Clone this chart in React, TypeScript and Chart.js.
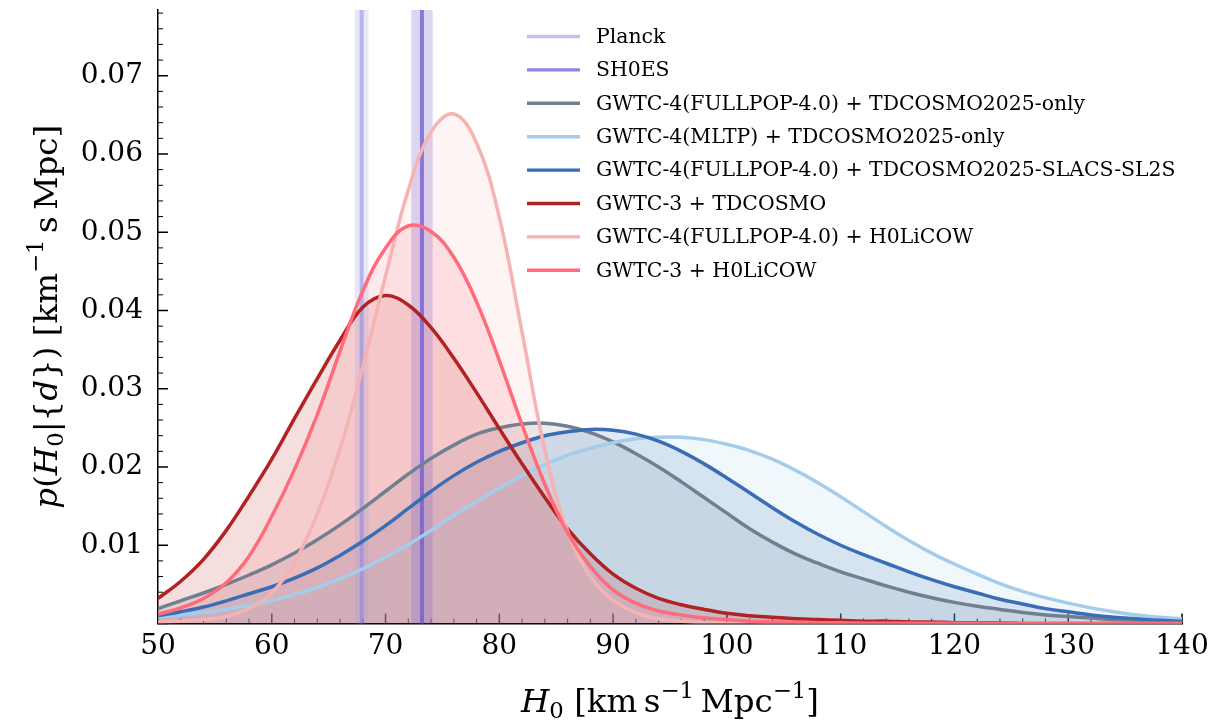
import React, { useEffect, useRef } from "react";
import { Chart, registerables } from "chart.js";

Chart.register(...registerables);

// ---------------- data ----------------
const H0_GRID = [
  50, 52, 54, 56, 58, 60, 62, 64, 66, 68, 70, 72, 74, 76, 78, 80, 82, 84, 86, 88,
  90, 92, 94, 96, 98, 100, 102, 104, 106, 108, 110, 112, 114, 116, 118, 120, 122,
  124, 126, 128, 130, 132, 134, 136, 138, 140,
];

const GWTC4_FULLPOP_TDCOSMO = [
  0.0019, 0.0029, 0.0039, 0.005, 0.0062, 0.0075, 0.009, 0.0107, 0.0126, 0.0147,
  0.0169, 0.0191, 0.0211, 0.0228, 0.0242, 0.025, 0.0255, 0.0256, 0.0252, 0.0244,
  0.0232, 0.0217, 0.02, 0.0181, 0.0161, 0.0141, 0.0121, 0.0104, 0.0089, 0.0077,
  0.0066, 0.0057, 0.0048, 0.004, 0.0033, 0.0027, 0.0022, 0.0018, 0.0014, 0.0011,
  0.0009, 0.0007, 0.0005, 0.0004, 0.0003, 0.0002,
];

const GWTC4_MLTP_TDCOSMO = [
  0.0008, 0.0011, 0.0014, 0.0018, 0.0023, 0.0029, 0.0037, 0.0046, 0.0057, 0.007,
  0.0085, 0.0101, 0.0119, 0.0138, 0.0156, 0.0173, 0.0189, 0.0203, 0.0215, 0.0224,
  0.0231, 0.0236, 0.0238, 0.0238, 0.0235, 0.0229, 0.0221, 0.021, 0.0196, 0.018,
  0.0162, 0.0143, 0.0124, 0.0106, 0.009, 0.0076, 0.0063, 0.0051, 0.0041, 0.0033,
  0.0026, 0.002, 0.0015, 0.0011, 0.0008, 0.0006,
];

const GWTC4_FULLPOP_SLACS = [
  0.001, 0.0015, 0.0021, 0.0029, 0.0038, 0.0047, 0.0058, 0.0071, 0.0087, 0.0105,
  0.0125, 0.0147, 0.0169, 0.0189, 0.0206, 0.022, 0.0231, 0.024, 0.0245, 0.0248,
  0.0247, 0.0242, 0.0233, 0.022, 0.0204, 0.0186, 0.0167, 0.0148, 0.013, 0.0114,
  0.01, 0.0088, 0.0077, 0.0066, 0.0056, 0.0047, 0.0039, 0.0031, 0.0025, 0.0019,
  0.0015, 0.0011, 0.0008, 0.0006, 0.0004, 0.0003,
];

const GWTC3_TDCOSMO = [
  0.0032, 0.0054, 0.0082, 0.0119, 0.0163, 0.021, 0.0262, 0.0313, 0.0362, 0.0404,
  0.0419, 0.0407, 0.0378, 0.0339, 0.0295, 0.0249, 0.0204, 0.0161, 0.0121, 0.0089,
  0.0063, 0.0045, 0.0032, 0.0024, 0.0018, 0.0013, 0.001, 0.0008, 0.0006, 0.0005,
  0.0004, 0.0003, 0.0003, 0.0002, 0.0002, 0.0001, 0.0001, 0.0001, 0, 0,
  0, 0, 0, 0, 0, 0,
];

const GWTC4_FULLPOP_H0LICOW = [
  0.0002, 0.0003, 0.0005, 0.0009, 0.0019, 0.0039, 0.0078, 0.014, 0.0223, 0.0328,
  0.0444, 0.0554, 0.0628, 0.0651, 0.0614, 0.0519, 0.0372, 0.0222, 0.0118, 0.006,
  0.003, 0.0014, 0.0006, 0.0003, 0.0001, 0, 0, 0, 0, 0,
  0, 0, 0, 0, 0, 0, 0, 0, 0, 0,
  0, 0, 0, 0, 0, 0,
];

const GWTC3_H0LICOW = [
  0.0012, 0.002, 0.0032, 0.0052, 0.0086, 0.0137, 0.0197, 0.0267, 0.0348, 0.0425,
  0.048, 0.0508, 0.0501, 0.0468, 0.0411, 0.0336, 0.0254, 0.0178, 0.0116, 0.0073,
  0.0043, 0.0026, 0.0016, 0.0011, 0.0007, 0.0005, 0.0003, 0.0002, 0.0002, 0.0001,
  0.0001, 0, 0, 0, 0, 0, 0, 0, 0, 0,
  0, 0, 0, 0, 0, 0,
];

const SERIES_NAMES = [
  "GWTC-4(FULLPOP-4.0) + TDCOSMO2025-only",
  "GWTC-4(MLTP) + TDCOSMO2025-only",
  "GWTC-4(FULLPOP-4.0) + TDCOSMO2025-SLACS-SL2S",
  "GWTC-3 + TDCOSMO",
  "GWTC-4(FULLPOP-4.0) + H0LiCOW",
  "GWTC-3 + H0LiCOW",
];
const SERIES_VALUES = [
  GWTC4_FULLPOP_TDCOSMO,
  GWTC4_MLTP_TDCOSMO,
  GWTC4_FULLPOP_SLACS,
  GWTC3_TDCOSMO,
  GWTC4_FULLPOP_H0LICOW,
  GWTC3_H0LICOW,
];
const SERIES_COLORS = ["#708090", "#a3cdeb", "#3a6db5", "#b22222", "#f5b3b3", "#ff6b7a"];

// Reference measurements (mean, 1-sigma)
const PLANCK = { name: "Planck", mean: 67.9, sigma: 0.6 };
const SHOES = { name: "SH0ES", mean: 73.2, sigma: 0.94 };

const X_TICKS = [50, 60, 70, 80, 90, 100, 110, 120, 130, 140];
const Y_TICKS = [0.01, 0.02, 0.03, 0.04, 0.05, 0.06, 0.07];
const X_RANGE = [50, 140];
const Y_RANGE = [0, 0.0784];
const X_MINOR = 2;
const Y_MINOR = 0.002;

// ---------------- helpers ----------------
const FONT = '"DejaVu Serif", "Liberation Serif", serif';

function hexA(hex: string, a: number) {
  const n = parseInt(hex.slice(1), 16);
  return `rgba(${(n >> 16) & 255},${(n >> 8) & 255},${n & 255},${a})`;
}

type Seg = { t: string; it?: boolean; sub?: boolean; sup?: boolean };

function drawRich(ctx: CanvasRenderingContext2D, segs: Seg[], cx: number, baseline: number, size: number) {
  const parts = segs.map((s) => {
    const sz = s.sub || s.sup ? size * 0.7 : size;
    const font = `${s.it ? "italic " : ""}${sz}px ${FONT}`;
    ctx.font = font;
    const w = ctx.measureText(s.t).width;
    const dy = s.sub ? size * 0.18 : s.sup ? -size * 0.42 : 0;
    return { font, w, dy, t: s.t };
  });
  const total = parts.reduce((a, p) => a + p.w, 0);
  let x = cx - total / 2;
  ctx.textAlign = "left";
  ctx.textBaseline = "alphabetic";
  for (const p of parts) {
    ctx.font = p.font;
    ctx.fillText(p.t, x, baseline + p.dy);
    x += p.w;
  }
}

const X_TITLE: Seg[] = [
  { t: "H", it: true },
  { t: "0", sub: true },
  { t: " [km\u2009s" },
  { t: "\u22121", sup: true },
  { t: "\u2009Mpc" },
  { t: "\u22121", sup: true },
  { t: "]" },
];

const Y_TITLE: Seg[] = [
  { t: "p", it: true },
  { t: "(" },
  { t: "H", it: true },
  { t: "0", sub: true },
  { t: "|{" },
  { t: "d", it: true },
  { t: "})" },
  { t: " [km" },
  { t: "\u22121", sup: true },
  { t: "\u2009s\u2009Mpc]" },
];

const PLANCK_STYLE = { band: "rgba(160,160,230,0.24)", line: "rgba(130,130,220,0.5)" };
const SHOES_STYLE = { band: "rgba(125,105,205,0.27)", line: "rgba(110,90,210,0.75)" };

// inward ticks, drawn first so the fills lie over them
const ticksPlugin = {
  id: "inTicks",
  beforeDraw(chart: any) {
    const { ctx, chartArea, scales } = chart;
    const x = scales.x;
    const y = scales.y;
    ctx.save();
    ctx.strokeStyle = "#000";
    const nx = Math.round((X_RANGE[1] - X_RANGE[0]) / X_MINOR);
    for (let k = 0; k <= nx; k++) {
      const v = X_RANGE[0] + k * X_MINOR;
      const major = X_TICKS.includes(v);
      const px = x.getPixelForValue(v);
      ctx.lineWidth = major ? 1.5 : 1;
      ctx.beginPath();
      ctx.moveTo(px, chartArea.bottom);
      ctx.lineTo(px, chartArea.bottom - (major ? 10 : 5));
      ctx.stroke();
    }
    const ny = Math.floor((Y_RANGE[1] - Y_RANGE[0]) / Y_MINOR + 1e-6);
    for (let k = 0; k <= ny; k++) {
      const v = Y_RANGE[0] + k * Y_MINOR;
      const major = k % 5 === 0;
      const py = y.getPixelForValue(v);
      ctx.lineWidth = major ? 1.5 : 1;
      ctx.beginPath();
      ctx.moveTo(chartArea.left, py);
      ctx.lineTo(chartArea.left + (major ? 10 : 5), py);
      ctx.stroke();
    }
    ctx.restore();
  },
};

// Planck / SH0ES bands and lines: after the fills, before the curve lines
const bandsPlugin = {
  id: "bands",
  beforeDatasetsDraw(chart: any) {
    const { ctx, chartArea, scales } = chart;
    const x = scales.x;
    const h = chartArea.bottom - chartArea.top;
    ctx.save();
    const bands = [
      { m: PLANCK, s: PLANCK_STYLE },
      { m: SHOES, s: SHOES_STYLE },
    ];
    for (const b of bands) {
      const l = x.getPixelForValue(b.m.mean - b.m.sigma);
      const r = x.getPixelForValue(b.m.mean + b.m.sigma);
      ctx.fillStyle = b.s.band;
      ctx.fillRect(l, chartArea.top, r - l, h);
      const c = x.getPixelForValue(b.m.mean);
      ctx.strokeStyle = b.s.line;
      ctx.lineWidth = 4;
      ctx.beginPath();
      ctx.moveTo(c, chartArea.top);
      ctx.lineTo(c, chartArea.bottom);
      ctx.stroke();
    }
    ctx.restore();
  },
};

const decorPlugin = {
  id: "decor",
  afterDraw(chart: any) {
    const { ctx, chartArea } = chart;
    ctx.save();
    // legend
    const entries = [
      { name: PLANCK.name, color: PLANCK_STYLE.line },
      { name: SHOES.name, color: SHOES_STYLE.line },
      ...SERIES_NAMES.map((n, i) => ({ name: n, color: SERIES_COLORS[i] })),
    ];
    const lx = 527;
    const ly0 = 36.5;
    const dy = 33.4;
    entries.forEach((e, i) => {
      const yy = ly0 + i * dy;
      ctx.strokeStyle = e.color;
      ctx.lineWidth = 3.4;
      ctx.beginPath();
      ctx.moveTo(lx, yy);
      ctx.lineTo(lx + 53, yy);
      ctx.stroke();
      ctx.fillStyle = "#000";
      ctx.font = `20.4px ${FONT}`;
      ctx.textAlign = "left";
      ctx.textBaseline = "middle";
      ctx.fillText(e.name, 596, yy + 1);
    });
    // axis titles
    ctx.fillStyle = "#000";
    drawRich(ctx, X_TITLE, (chartArea.left + chartArea.right) / 2, 712, 32.5);
    ctx.translate(57, (chartArea.top + chartArea.bottom) / 2);
    ctx.rotate(-Math.PI / 2);
    drawRich(ctx, Y_TITLE, 0, 0, 32.5);
    ctx.restore();
  },
};

export default function App() {
  const ref = useRef<HTMLCanvasElement | null>(null);
  useEffect(() => {
    document.body.style.margin = "0";
    const canvas = ref.current!;
    const datasets = SERIES_VALUES.map((vals, i) => ({
      label: SERIES_NAMES[i],
      data: H0_GRID.map((h, j) => ({ x: h, y: vals[j] })),
      borderColor: SERIES_COLORS[i],
      backgroundColor: hexA(SERIES_COLORS[i], 0.15),
      borderWidth: 3.5,
      pointRadius: 0,
      fill: "origin",
      tension: 0.4,
      order: SERIES_VALUES.length - i,
    }));
    const chart = new Chart(canvas, {
      type: "line",
      data: { datasets },
      options: {
        responsive: false,
        animation: false,
        devicePixelRatio: 1,
        layout: { padding: { top: 10, right: 36, left: 0, bottom: 0 } },
        plugins: {
          legend: { display: false },
          tooltip: { enabled: false },
          filler: { drawTime: "beforeDatasetsDraw" },
        } as any,
        scales: {
          x: {
            type: "linear",
            min: X_RANGE[0],
            max: X_RANGE[1],
            grid: { display: false, drawTicks: false },
            border: { display: true, color: "#000", width: 1.5 },
            ticks: {
              color: "#000",
              font: { family: FONT, size: 28 },
              padding: 6,
              maxRotation: 0,
              autoSkip: false,
              callback: (v: any) => String(v),
            },
            afterBuildTicks: (s: any) => {
              s.ticks = X_TICKS.map((v) => ({ value: v }));
            },
            afterFit: (s: any) => {
              s.height = 97.5;
              s.paddingLeft = 0;
              s.paddingRight = 0;
            },
          },
          y: {
            type: "linear",
            min: Y_RANGE[0],
            max: Y_RANGE[1],
            grid: { display: false, drawTicks: false },
            border: { display: true, color: "#000", width: 1.5 },
            ticks: {
              color: "#000",
              font: { family: FONT, size: 28 },
              padding: 15,
              callback: (v: any) => Number(v).toFixed(2),
            },
            afterBuildTicks: (s: any) => {
              s.ticks = Y_TICKS.map((v) => ({ value: v }));
            },
            afterFit: (s: any) => {
              s.width = 158;
              s.paddingTop = 0;
              s.paddingBottom = 0;
            },
          },
        },
      },
      plugins: [ticksPlugin, bandsPlugin, decorPlugin],
    });
    return () => chart.destroy();
  }, []);
  return <canvas ref={ref} width={1218} height={721} style={{ display: "block" }} />;
}
